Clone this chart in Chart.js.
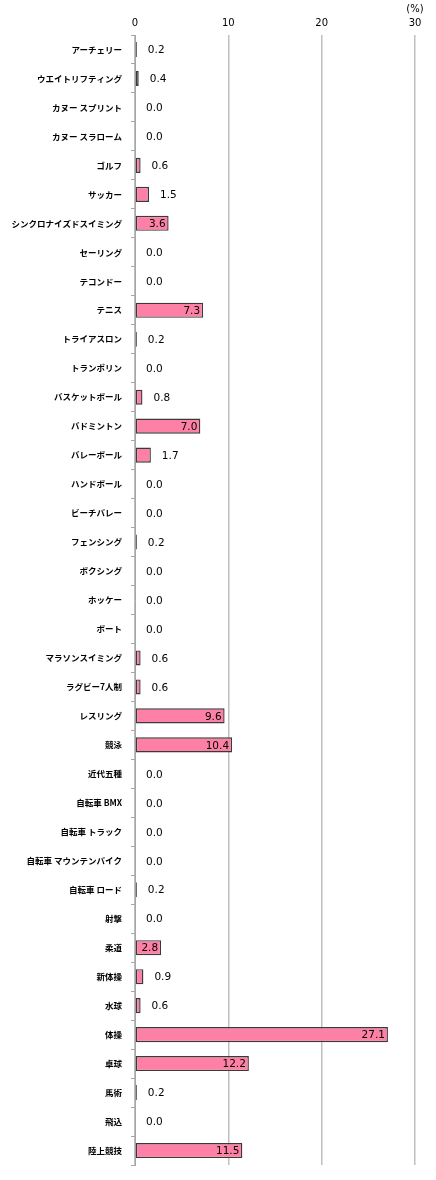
<!DOCTYPE html>
<html lang="ja">
<head>
<meta charset="utf-8">
<script src="https://cdn.jsdelivr.net/npm/chart.js@4/dist/chart.umd.min.js"></script>
<style>
  html, body { margin: 0; padding: 0; background: #fff; }
  #wrap { width: 436px; height: 1180px; position: relative; }
</style>
</head>
<body>
<div id="wrap"><canvas id="chartSports"></canvas></div>
<script>
const sports = [
  'アーチェリー', 'ウエイトリフティング', 'カヌー スプリント', 'カヌー スラローム', 'ゴルフ',
  'サッカー', 'シンクロナイズドスイミング', 'セーリング', 'テコンドー', 'テニス',
  'トライアスロン', 'トランポリン', 'バスケットボール', 'バドミントン', 'バレーボール',
  'ハンドボール', 'ビーチバレー', 'フェンシング', 'ボクシング', 'ホッケー',
  'ボート', 'マラソンスイミング', 'ラグビー7人制', 'レスリング', '競泳',
  '近代五種', '自転車 BMX', '自転車 トラック', '自転車 マウンテンバイク', '自転車 ロード',
  '射撃', '柔道', '新体操', '水球', '体操',
  '卓球', '馬術', '飛込', '陸上競技'
];
const shares = [
  0.2, 0.4, 0.0, 0.0, 0.6,
  1.5, 3.6, 0.0, 0.0, 7.3,
  0.2, 0.0, 0.8, 7.0, 1.7,
  0.0, 0.0, 0.2, 0.0, 0.0,
  0.0, 0.6, 0.6, 9.6, 10.4,
  0.0, 0.0, 0.0, 0.0, 0.2,
  0.0, 2.8, 0.9, 0.6, 27.1,
  12.2, 0.2, 0.0, 11.5
];
const xTicks = [0, 10, 20, 30];

const valueLabels = {
  id: 'valueLabels',
  afterDatasetsDraw(chart) {
    const { ctx } = chart;
    const meta = chart.getDatasetMeta(0);
    const x0 = chart.scales.x.getPixelForValue(0);
    ctx.save();
    ctx.font = '10.5px "DejaVu Sans", sans-serif';
    ctx.fillStyle = '#000';
    ctx.textBaseline = 'middle';
    meta.data.forEach((bar, i) => {
      const v = shares[i];
      const text = v.toFixed(1);
      if (v >= 2.5) {
        ctx.textAlign = 'right';
        ctx.fillText(text, bar.x - 3, bar.y + 1);
      } else {
        ctx.textAlign = 'left';
        ctx.fillText(text, Math.max(bar.x, x0) + 11, bar.y + 1);
      }
    });
    // unit label above the last tick
    ctx.textAlign = 'center';
    ctx.font = '10px "DejaVu Sans", sans-serif';
    ctx.fillText('(%)', chart.scales.x.getPixelForValue(30), 9);
    ctx.restore();
  }
};

new Chart(document.getElementById('chartSports'), {
  type: 'bar',
  data: {
    labels: sports,
    datasets: [
      {
        data: shares,
        backgroundColor: '#ff80a6',
        borderColor: '#3a3a3a',
        borderWidth: 1.4,
        borderSkipped: false,
        categoryPercentage: 1,
        barPercentage: 0.52
      }
    ]
  },
  options: {
    indexAxis: 'y',
    responsive: true,
    maintainAspectRatio: false,
    animation: false,
    layout: { padding: { left: 0, right: 21, top: 0, bottom: 15 } },
    plugins: {
      legend: { display: false },
      tooltip: { enabled: false }
    },
    scales: {
      x: {
        position: 'top',
        min: 0,
        max: 30,
        afterBuildTicks(scale) {
          scale.ticks = xTicks.map((v) => ({ value: v }));
        },
        afterFit(scale) { scale.height = 35; },
        ticks: {
          color: '#000',
          padding: 6,
          font: { family: '"DejaVu Sans", sans-serif', size: 10 }
        },
        grid: { color: '#bfbfbf', lineWidth: 1.5, tickLength: 0 },
        border: { display: false }
      },
      y: {
        afterFit(scale) { scale.width = 135; },
        ticks: {
          color: '#000',
          padding: 9,
          autoSkip: false,
          font: { family: '"Noto Sans CJK JP", sans-serif', size: 8.5, weight: 'bold' }
        },
        grid: { drawOnChartArea: false, offset: true, tickLength: 4, color: '#a6a6a6' },
        border: { display: true, color: '#a6a6a6', width: 1 }
      }
    }
  },
  plugins: [valueLabels]
});
</script>
</body>
</html>
